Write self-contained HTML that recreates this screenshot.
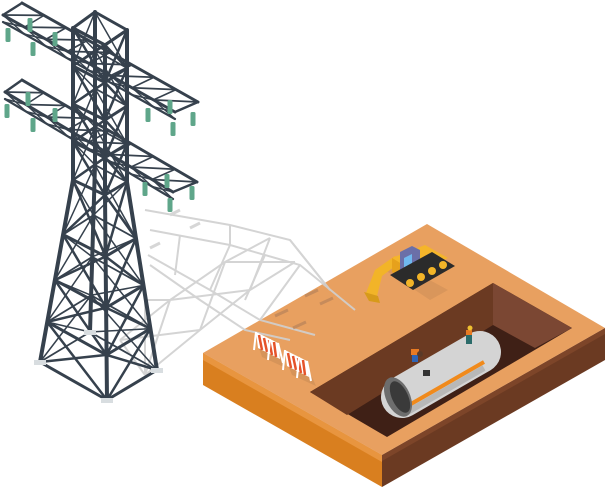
<!DOCTYPE html>
<html><head><meta charset="utf-8"><style>html,body{margin:0;padding:0;background:#fff}svg{display:block}</style></head>
<body>
<svg id="s" width="605" height="490" viewBox="0 0 605 490" xmlns="http://www.w3.org/2000/svg">
<polygon points="203,353 382,455 382,487 203,385" fill="#d97f1f"/>
<polygon points="203,353 382,455 382,462 203,360" fill="#e8953f"/>
<polygon points="382,455 605,328 605,360 382,487" fill="#6b3a22"/>
<polygon points="382,455 605,328 605,334 382,461" fill="#7d4529"/>
<polygon points="203,353 427,224 605,328 382,455" fill="#e8a060"/>
<polygon points="310,392 493,283 572,328 387,437" fill="#3f2016"/>
<polygon points="310,392 493,283 493,325 347,415" fill="#6b3a22"/>
<polygon points="493,283 572,328 535,348 493,325" fill="#7b4733"/>
<g stroke="#d0d0d0" stroke-width="2" fill="none" opacity="0.9">
<polyline points="145,375 200,330 250,290 295,262"/>
<polyline points="120,340 170,300 225,262 270,238"/>
<polyline points="150,230 230,245 300,265 355,310"/>
<polyline points="145,210 230,225 290,240 330,290"/>
<polyline points="148,255 210,290 260,320 315,335"/>
<polyline points="150,265 200,300 245,330 290,340"/>
<path d="M145,375 L170,300 M200,330 L225,262 M250,290 L270,238 M120,340 L200,330 M170,300 L250,290 M225,262 L295,262 M145,375 L120,340 M170,300 L145,300 L145,375"/>
<path d="M230,245 L210,290 M300,265 L260,320 M290,240 L330,290 M230,225 L230,245 M180,235 L175,275 M265,255 L245,300"/>
</g>
<g stroke="#b9835a" stroke-width="3" opacity="0.7">
<line x1="305" y1="296" x2="318" y2="290"/><line x1="320" y1="304" x2="333" y2="298"/>
<line x1="275" y1="316" x2="288" y2="310"/><line x1="293" y1="328" x2="306" y2="322"/>
</g>
<g stroke="#d6d6d6" stroke-width="3"><line x1="170" y1="215" x2="180" y2="210"/><line x1="190" y1="228" x2="200" y2="223"/><line x1="150" y1="248" x2="160" y2="243"/></g>
<g>
<polygon points="258,345 282,357 286,368 262,357" fill="#c98c55" opacity="0.6"/>
<polygon points="256,332 278,343 280,359 258,348" fill="#fff"/>
<path d="M259,335 L262,350 M264,338 L267,352 M269,340 L272,355 M274,342 L276,357" stroke="#e5532a" stroke-width="2.5"/>
<path d="M256,332 L254,350 M278,343 L283,363 M270,339 L268,360" stroke="#fff" stroke-width="2"/>
<polygon points="288,365 312,377 316,386 292,375" fill="#c98c55" opacity="0.6"/>
<polygon points="285,350 307,361 309,377 287,366" fill="#fff"/>
<path d="M288,353 L291,368 M293,356 L296,370 M298,358 L301,373 M303,360 L305,375" stroke="#e5532a" stroke-width="2.5"/>
<path d="M285,350 L283,370 M307,361 L311,381 M299,357 L297,378" stroke="#fff" stroke-width="2"/>
</g>
<g>
<polygon points="385,270 398,263 448,290 430,300" fill="#c98c55" opacity="0.5"/>
<path d="M366,293 L375,270 L395,256 L402,261 L382,276 L377,296 Z" fill="#f2b428"/>
<polygon points="364,292 378,296 380,303 369,301" fill="#d79a1a"/>
<polygon points="392,258 425,245 448,258 415,272" fill="#f5b52a"/>
<polygon points="392,258 415,272 415,285 392,272" fill="#e6a11c"/>
<polygon points="400,252 412,246 420,250 420,268 408,274 400,270" fill="#6b6fa8"/>
<polygon points="404,258 412,254 412,268 404,272" fill="#6fb8ef"/>
<polygon points="390,275 432,252 455,266 413,290" fill="#2b2b2b"/>
<g fill="#f2b428"><circle cx="410" cy="283" r="4"/><circle cx="421" cy="277" r="4"/><circle cx="432" cy="271" r="4"/><circle cx="443" cy="265" r="4"/></g>
</g>
<line x1="402" y1="397" x2="480" y2="352" stroke="#d4d4d4" stroke-width="42" stroke-linecap="round"/>
<line x1="404" y1="408" x2="484" y2="362" stroke="#f08a1c" stroke-width="4"/>
<line x1="404" y1="414" x2="484" y2="368" stroke="#b8b8b8" stroke-width="6"/>
<ellipse cx="398" cy="397" rx="12" ry="21" fill="#6d6d6d" transform="rotate(-25 398 397)"/>
<ellipse cx="400" cy="397" rx="8" ry="17" fill="#3a3a3a" transform="rotate(-25 400 397)"/>
<rect x="412" y="352" width="6" height="10" fill="#2f64b5"/><rect x="411" y="349" width="8" height="6" fill="#e87a23"/><circle cx="420" cy="354" r="3" fill="#5a3a28"/>
<rect x="423" y="370" width="7" height="6" fill="#333"/>
<rect x="466" y="334" width="6" height="10" fill="#2b6b6a"/><rect x="466" y="330" width="6" height="5" fill="#e87a23"/><circle cx="470" cy="328" r="2.5" fill="#f0c030"/>
<g id="tw" stroke="#36414d" stroke-linecap="round" fill="none"></g>
<g id="ins" fill="#5fa68a"></g>
</svg>
<script>
(function(){
var NS='http://www.w3.org/2000/svg';
var tw=document.getElementById('tw'),ins=document.getElementById('ins');
function L(a,b,w){var l=document.createElementNS(NS,'line');l.setAttribute('x1',a[0]);l.setAttribute('y1',a[1]);l.setAttribute('x2',b[0]);l.setAttribute('y2',b[1]);l.setAttribute('stroke-width',w||2.5);tw.appendChild(l);}
function lerp(a,b,t){return [a[0]+(b[0]-a[0])*t,a[1]+(b[1]-a[1])*t];}
var tp=[[73,28],[95,12],[127,30],[105,45]],waist=[[73,180],[95,165],[127,182],[105,195]],foot=[[40,362],[90,332],[157,370],[107,400]];
var levels=[];
[0,.25,.5,.75,1].forEach(function(t){levels.push(tp.map(function(p,i){return lerp(p,waist[i],t);}));});
[.3,.55,.78,1].forEach(function(t){levels.push(waist.map(function(p,i){return lerp(p,foot[i],t);}));});
var k,a,b;
for(k=0;k<levels.length-1;k++){a=levels[k];b=levels[k+1];
 L(a[0],b[1],1.5);L(a[1],b[0],1.5);L(a[1],b[2],1.5);L(a[2],b[1],1.5);}
levels.forEach(function(l){L(l[0],l[1],1.8);L(l[1],l[2],1.8);});
for(var i=0;i<4;i++){L(tp[i],waist[i],4);L(waist[i],foot[i],4);}
for(k=0;k<levels.length-1;k++){a=levels[k];b=levels[k+1];
 L(a[0],b[3],2.5);L(a[3],b[0],2.5);L(a[3],b[2],2.5);L(a[2],b[3],2.5);}
levels.forEach(function(l){L(l[0],l[3],3);L(l[3],l[2],3);});
L(tp[0],tp[1],3);L(tp[1],tp[2],3);L(tp[2],tp[3],3);L(tp[3],tp[0],3);
function arm(A0,A1,B0,B1){var d=7;var a0=[A0[0],A0[1]+d],a1=[A1[0],A1[1]+d];
 L(A0,A1,3);L(B0,B1,3);L(a0,a1,2.2);L(A0,B0,2.5);L(A1,B1,2.5);
 var n=8;for(var i=0;i<n;i++){var p=lerp(A0,A1,i/n),q=lerp(B0,B1,(i+1)/n),r=lerp(A0,A1,(i+1)/n),s=lerp(a0,a1,i/n),u=lerp(a0,a1,(i+1)/n);
 L(p,q,1.8);L(r,q,1.6);L(s,r,1.6);L(p,u,1.4);}}
arm([3,15],[175,112],[22,3],[198,102]);
arm([5,92],[173,192],[22,80],[197,182]);
[[8,28],[30,18],[33,42],[55,32],[148,108],[170,100],[173,122],[193,112],[7,104],[28,92],[33,118],[55,108],[145,182],[167,174],[170,198],[192,186]].forEach(function(p){
 var r=document.createElementNS(NS,'rect');r.setAttribute('x',p[0]-2.5);r.setAttribute('y',p[1]);r.setAttribute('width',5);r.setAttribute('height',14);r.setAttribute('rx',1.5);ins.appendChild(r);});
[[40,362],[90,332],[157,370],[107,400]].forEach(function(p){var r=document.createElementNS(NS,'rect');r.setAttribute('x',p[0]-6);r.setAttribute('y',p[1]-2);r.setAttribute('width',12);r.setAttribute('height',5);r.setAttribute('fill','#d8dde0');ins.appendChild(r);});
})();
</script>
</body></html>
